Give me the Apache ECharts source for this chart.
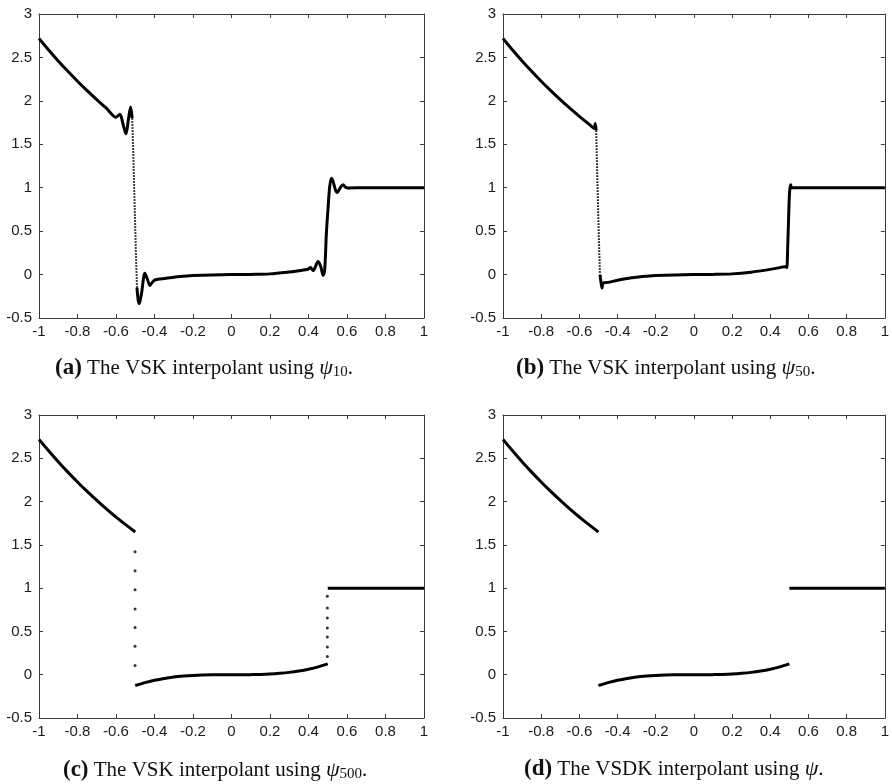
<!DOCTYPE html>
<html>
<head>
<meta charset="utf-8">
<script src="https://cdn.jsdelivr.net/npm/echarts@6/dist/echarts.min.js"></script>
<style>
html,body{margin:0;padding:0;background:#fff;}
#chart{width:892px;height:784px;}
</style>
</head>
<body>
<div id="chart"></div>
<script>
// ---- Axis settings ----
const xMin = -1, xMax = 1, xStep = 0.2;
const yMin = -0.5, yMax = 3, yStep = 0.5;

// ---- Captions ----
const captionLetters = ['(a)', '(b)', '(c)', '(d)'];
const captionTexts = ['The VSK interpolant using', 'The VSK interpolant using', 'The VSK interpolant using', 'The VSDK interpolant using'];
const captionSubs = ['10', '50', '500', ''];

// ---- Panel (a): VSK with psi_10 ----
const aLeftX = [-1, -0.95, -0.9, -0.85, -0.8, -0.75, -0.7, -0.65, -0.6, -0.58, -0.562, -0.548, -0.536, -0.524, -0.516];
const aLeftY = [2.718, 2.586, 2.460, 2.340, 2.226, 2.117, 2.014, 1.916, 1.812, 1.845, 1.72, 1.62, 1.78, 1.93, 1.80];
const aJumpX = [-0.516, -0.511, -0.506, -0.501, -0.496, -0.491];
const aJumpY = [1.80, 1.45, 1.05, 0.62, 0.20, -0.15];
const aRightX = [-0.491, -0.485, -0.479, -0.467, -0.45, -0.436, -0.424, -0.41, -0.394, -0.35, -0.3, -0.25, -0.2, -0.1, 0, 0.1, 0.2, 0.3, 0.35, 0.4, 0.41, 0.424, 0.45, 0.464, 0.476, 0.484, 0.493, 0.502, 0.51, 0.519, 0.528, 0.54, 0.55, 0.566, 0.58, 0.592, 0.606, 0.7, 0.8, 0.9, 1];
const aRightY = [-0.15, -0.29, -0.335, -0.21, 0.015, -0.06, -0.125, -0.085, -0.06, -0.045, -0.03, -0.02, -0.012, -0.004, 0, 0.002, 0.008, 0.03, 0.045, 0.065, 0.08, 0.045, 0.15, 0.09, -0.01, 0.05, 0.48, 0.78, 1.01, 1.11, 1.07, 0.975, 0.945, 1.005, 1.035, 1.005, 0.997, 1, 1, 1, 1];

// ---- Panel (b): VSK with psi_50 ----
const bLeftX = [-1, -0.95, -0.9, -0.85, -0.8, -0.75, -0.7, -0.65, -0.6, -0.55, -0.522, -0.517, -0.512];
const bLeftY = [2.718, 2.586, 2.460, 2.340, 2.226, 2.117, 2.014, 1.916, 1.822, 1.733, 1.685, 1.74, 1.66];
const bJumpX = [-0.512, -0.508, -0.504, -0.5, -0.496, -0.492];
const bJumpY = [1.66, 1.30, 0.95, 0.60, 0.28, 0.0];
const bRightX = [-0.492, -0.486, -0.481, -0.476, -0.45, -0.4, -0.35, -0.3, -0.25, -0.2, -0.1, 0, 0.1, 0.2, 0.3, 0.4, 0.45, 0.484, 0.487, 0.491, 0.496, 0.501, 0.507, 0.512, 0.6, 0.8, 1];
const bRightY = [0.0, -0.1, -0.155, -0.1, -0.09, -0.065, -0.045, -0.03, -0.02, -0.012, -0.004, 0, 0.002, 0.008, 0.028, 0.06, 0.08, 0.094, 0.08, 0.3, 0.65, 0.95, 1.035, 1, 1, 1, 1];

// ---- Panel (c): VSK with psi_500 ----
const cExpX = [-1, -0.95, -0.9, -0.85, -0.8, -0.75, -0.7, -0.65, -0.6, -0.55, -0.5];
const cExpY = [2.718, 2.586, 2.460, 2.340, 2.226, 2.117, 2.014, 1.916, 1.822, 1.733, 1.649];
const cMidX = [-0.5, -0.45, -0.4, -0.35, -0.3, -0.25, -0.2, -0.15, -0.1, -0.05, 0, 0.05, 0.1, 0.15, 0.2, 0.25, 0.3, 0.35, 0.4, 0.45, 0.5];
const cMidY = [-0.125, -0.091, -0.064, -0.043, -0.027, -0.016, -0.008, -0.003, -0.001, 0, 0, 0, 0.001, 0.003, 0.008, 0.016, 0.027, 0.043, 0.064, 0.091, 0.125];
const cFlatX = [0.5, 0.75, 1];
const cFlatY = [1, 1, 1];
const cDotsLeftX = [-0.501, -0.501, -0.501, -0.501, -0.501, -0.501, -0.501];
const cDotsLeftY = [1.42, 1.20, 0.98, 0.76, 0.545, 0.33, 0.105];
const cDotsRightX = [0.498, 0.498, 0.498, 0.498, 0.498, 0.498, 0.498];
const cDotsRightY = [0.905, 0.77, 0.655, 0.54, 0.435, 0.32, 0.21];

// ---- Panel (d): VSDK with psi ----
const dExpX = [-1, -0.95, -0.9, -0.85, -0.8, -0.75, -0.7, -0.65, -0.6, -0.55, -0.5];
const dExpY = [2.718, 2.586, 2.460, 2.340, 2.226, 2.117, 2.014, 1.916, 1.822, 1.733, 1.649];
const dMidX = [-0.5, -0.45, -0.4, -0.35, -0.3, -0.25, -0.2, -0.15, -0.1, -0.05, 0, 0.05, 0.1, 0.15, 0.2, 0.25, 0.3, 0.35, 0.4, 0.45, 0.5];
const dMidY = [-0.125, -0.091, -0.064, -0.043, -0.027, -0.016, -0.008, -0.003, -0.001, 0, 0, 0, 0.001, 0.003, 0.008, 0.016, 0.027, 0.043, 0.064, 0.091, 0.125];
const dFlatX = [0.5, 0.75, 1];
const dFlatY = [1, 1, 1];

// ---- Build ----
const zip = (xs, ys) => xs.map((x, i) => [x, ys[i]]);

const grids = [
  {left: 39, top: 14, width: 385, height: 304},
  {left: 503, top: 14, width: 386, height: 304},
  {left: 39, top: 415, width: 385, height: 303},
  {left: 503, top: 415, width: 386, height: 303}
];
const captionPos = [[55, 356], [516, 356], [63, 758], [524, 758]];

const axisCol = '#3a3a3a';
const labelCol = '#1a1a1a';
const sansFont = '"Liberation Sans", Arial, sans-serif';
const serifFont = '"Liberation Serif", "Times New Roman", serif';

const xAxes = [], yAxes = [];
grids.forEach((g, i) => {
  const common = {
    type: 'value', gridIndex: i, splitLine: {show: false},
    axisLine: {show: true, onZero: false, lineStyle: {color: axisCol, width: 1}},
    axisTick: {show: true, inside: true, length: 4, lineStyle: {color: axisCol, width: 1}}
  };
  xAxes.push(Object.assign({}, common, {
    position: 'bottom', min: xMin, max: xMax, interval: xStep,
    axisLabel: {show: true, color: labelCol, fontFamily: sansFont, fontSize: 15, margin: 6,
      formatter: v => String(Math.round(v * 10) / 10)}
  }));
  xAxes.push(Object.assign({}, common, {
    position: 'top', min: xMin, max: xMax, interval: xStep, axisLabel: {show: false}
  }));
  yAxes.push(Object.assign({}, common, {
    position: 'left', min: yMin, max: yMax, interval: yStep,
    axisLabel: {show: true, color: labelCol, fontFamily: sansFont, fontSize: 15, margin: 7,
      formatter: v => String(Math.round(v * 10) / 10)}
  }));
  yAxes.push(Object.assign({}, common, {
    position: 'right', min: yMin, max: yMax, interval: yStep, axisLabel: {show: false}
  }));
});

const series = [];
function addLine(panel, xs, ys, opts) {
  series.push(Object.assign({
    type: 'line', xAxisIndex: panel * 2, yAxisIndex: panel * 2,
    data: zip(xs, ys), showSymbol: false, symbol: 'none', smooth: 0.3,
    lineStyle: {color: '#000', width: 3}, silent: true, animation: false, clip: true
  }, opts || {}));
}
function addDots(panel, xs, ys) {
  series.push({
    type: 'scatter', xAxisIndex: panel * 2, yAxisIndex: panel * 2,
    data: zip(xs, ys), symbol: 'circle', symbolSize: 3,
    itemStyle: {color: '#000'}, silent: true, animation: false
  });
}

addLine(0, aLeftX, aLeftY);
addLine(0, aJumpX, aJumpY, {smooth: false, lineStyle: {color: '#000', width: 2, type: [1.5, 1.5]}});
addLine(0, aRightX, aRightY);

addLine(1, bLeftX, bLeftY);
addLine(1, bJumpX, bJumpY, {smooth: false, lineStyle: {color: '#000', width: 2, type: [1.5, 1.5]}});
addLine(1, bRightX, bRightY);

addLine(2, cExpX, cExpY, {smooth: 0.5});
addLine(2, cMidX, cMidY);
addLine(2, cFlatX, cFlatY, {smooth: false});
addDots(2, cDotsLeftX, cDotsLeftY);
addDots(2, cDotsRightX, cDotsRightY);

addLine(3, dExpX, dExpY, {smooth: 0.5});
addLine(3, dMidX, dMidY);
addLine(3, dFlatX, dFlatY, {smooth: false});

const titles = captionLetters.map((L, i) => {
  const sub = captionSubs[i];
  const text = '{b|' + L + '} {t|' + captionTexts[i] + ' }{p|ψ}' + (sub ? '{s|' + sub + '}' : '') + '{t|.}';
  return {
    text: text, left: captionPos[i][0], top: captionPos[i][1], padding: 0,
    textStyle: {
      fontFamily: serifFont, fontSize: 21, color: '#111', fontWeight: 'normal',
      rich: {
        b: {fontFamily: serifFont, fontSize: 23, fontWeight: 'bold', color: '#111'},
        t: {fontFamily: serifFont, fontSize: 21, color: '#111'},
        p: {fontFamily: serifFont, fontSize: 22, fontStyle: 'italic', color: '#111'},
        s: {fontFamily: serifFont, fontSize: 15, color: '#111', padding: [9, 0, 0, 0]}
      }
    }
  };
});

const chart = echarts.init(document.getElementById('chart'), null, {renderer: 'canvas'});
chart.setOption({
  animation: false,
  backgroundColor: '#fff',
  title: titles,
  grid: grids.map(g => Object.assign({containLabel: false}, g)),
  xAxis: xAxes,
  yAxis: yAxes,
  series: series
});
</script>
</body>
</html>
